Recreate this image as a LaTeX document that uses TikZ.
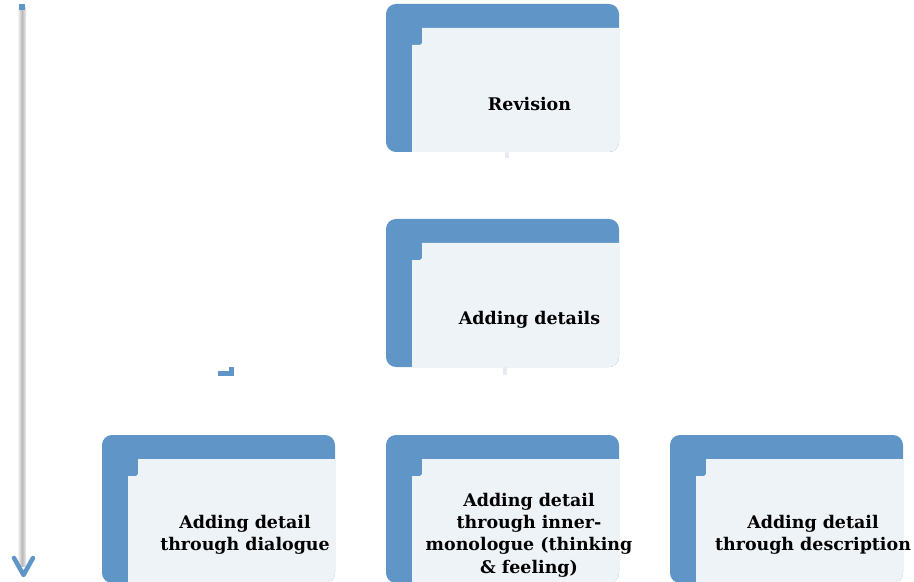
\documentclass[tikz,border=0pt]{standalone}
\usepackage{fontspec}
\newfontfamily\cardfont{DejaVu Serif}
\definecolor{cardblue}{RGB}{96,150,199}
\definecolor{cardlight}{RGB}{238,243,248}
\definecolor{stubgray}{RGB}{232,236,242}
\tikzset{
  card/.pic={
    \fill[cardblue, rounded corners=10] (0,0) rectangle (233,148);
    \fill[cardlight] (36,24) -- (233,24) -- (233,138) arc[start angle=0,end angle=90,radius=10] -- (26,148) -- (26,41) -- (34,41) -- (36,39) -- cycle;
  },
  cardtext/.style={font=\cardfont\bfseries\fontsize{17.5}{22.5}\selectfont, align=center, text=black, inner sep=0pt},
  stub/.style={draw=stubgray, line width=5pt},
}
\begin{document}
\begin{tikzpicture}[x=1bp,y=-1bp]
\useasboundingbox (0,0) rectangle (914,582);
% left timeline arrow
\shade[left color=gray!10, right color=gray!15, middle color=gray!55] (18,8) rectangle (26,566);
\fill[cardblue] (19,4) rectangle (25,10);
\coordinate (arrL) at (14,558);
\coordinate (arrT) at (23.5,575);
\coordinate (arrR) at (33,558);
\draw[cardblue, line width=4.5pt, line cap=round, line join=round] (arrL) -- (arrT) -- (arrR);
% small mark
\fill[cardblue] (218,371) rectangle (234,376);
\fill[cardblue] (229,367) rectangle (234,376);
% cards
\pic at (386,4) {card};
\pic at (386,219) {card};
\pic at (102,435) {card};
\pic at (386,435) {card};
\pic at (670,435) {card};
% texts
\node[cardtext] (rev) at (529.5,104) {Revision};
\node[cardtext] (add) at (529.5,319.5) {Adding details};
\node[cardtext] (dia) at (245,535) {Adding detail\\through dialogue};
\node[cardtext] (inn) at (529,535) {Adding detail\\through inner-\\monologue (thinking\\\& feeling)};
\node[cardtext] (des) at (813,535) {Adding detail\\through description};
% connector stubs
\coordinate (revb) at (507,152);
\coordinate (addb) at (505,367);
\draw[stub] (revb) -- ++(0,6);
\draw[stub] (addb) -- ++(0,8);
\end{tikzpicture}
\end{document}
